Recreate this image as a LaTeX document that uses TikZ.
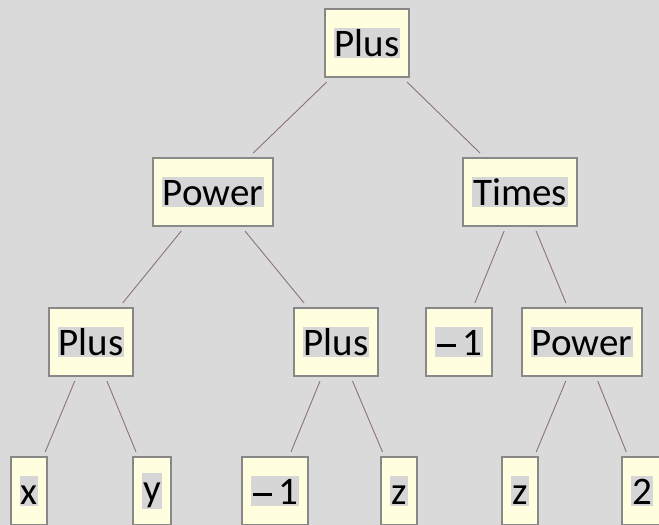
\documentclass[tikz,border=0pt]{standalone}
\usepackage{fontspec}
\setmainfont{Carlito}
\definecolor{bgc}{RGB}{218,218,218}
\definecolor{hlc}{RGB}{214,214,214}
\definecolor{boxfill}{RGB}{255,255,224}
\definecolor{boxc}{RGB}{136,136,136}
\definecolor{edgec}{RGB}{140,115,120}
\newcommand{\hlt}[1]{{\setlength{\fboxsep}{1pt}\colorbox{hlc}{\vphantom{Pl}#1}}}
\newcommand{\mone}{\hspace{1pt}\rule[9pt]{19pt}{2.4pt}\hspace{6pt}1}
\begin{document}
\begin{tikzpicture}[x=1pt,y=-1pt,
  box/.style={draw=boxc, line width=2pt, fill=boxfill, minimum height=68pt,
    inner xsep=9pt, inner ysep=0pt, outer sep=5pt, font=\fontsize{39}{42}\selectfont},
  edge/.style={draw=edgec, line width=0.9pt}]
\fill[bgc] (0,0) rectangle (659,525);
\useasboundingbox (0,0) rectangle (659,525);
\node[box] (n1) at (367,43) {\hlt{Plus}};
\node[box] (n2) at (213,192) {\hlt{Power}};
\node[box] (n3) at (520,192) {\hlt{Times}};
\node[box] (n4) at (91,342) {\hlt{Plus}};
\node[box] (n5) at (336,342) {\hlt{Plus}};
\node[box] (n6) at (459,342) {\hlt{\mone}};
\node[box] (n7) at (582,342) {\hlt{Power}};
\node[box] (n8) at (29,491) {\hlt{x}};
\node[box] (n9) at (152,491) {\hlt{y}};
\node[box] (n10) at (275,491) {\hlt{\mone}};
\node[box] (n11) at (399,491) {\hlt{z}};
\node[box] (n12) at (520,491) {\hlt{z}};
\node[box] (n13) at (642,491) {\hlt{2}};
\draw[edge] (n1) -- (n2);
\draw[edge] (n1) -- (n3);
\draw[edge] (n2) -- (n4);
\draw[edge] (n2) -- (n5);
\draw[edge] (n3) -- (n6);
\draw[edge] (n3) -- (n7);
\draw[edge] (n4) -- (n8);
\draw[edge] (n4) -- (n9);
\draw[edge] (n5) -- (n10);
\draw[edge] (n5) -- (n11);
\draw[edge] (n7) -- (n12);
\draw[edge] (n7) -- (n13);
\end{tikzpicture}
\end{document}
